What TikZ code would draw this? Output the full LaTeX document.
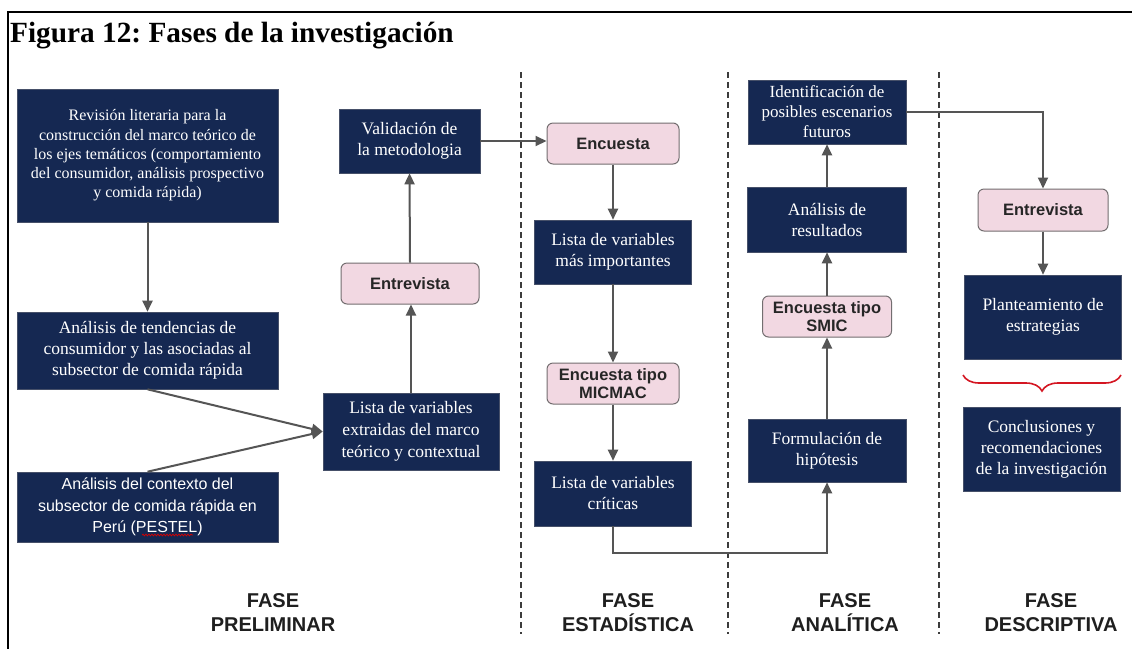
\documentclass[tikz,border=0pt]{standalone}
\usepackage{fontspec}
\setmainfont{Liberation Serif}
\setsansfont{Liberation Sans}
\usetikzlibrary{arrows.meta,decorations.pathreplacing,decorations.pathmorphing}
\frenchspacing

\definecolor{navy}{RGB}{21,40,82}
\definecolor{navyedge}{RGB}{70,80,105}
\definecolor{pinkfill}{RGB}{242,216,226}
\definecolor{pinkedge}{RGB}{115,110,112}
\definecolor{arrowgray}{RGB}{85,85,85}
\definecolor{bracered}{RGB}{212,22,34}
\definecolor{dashgray}{RGB}{60,60,60}

\begin{document}
\begin{tikzpicture}[x=1pt,y=-1pt,
  navybox/.style={fill=navy, draw=navyedge, line width=0.6pt, text=white,
    align=center, inner sep=0pt,
    font=\fontsize{17.5}{21}\selectfont},
  pinkbox/.style={fill=pinkfill, draw=pinkedge, line width=1pt,
    rounded corners=6pt, align=center, inner sep=0pt, text=black!85,
    font=\sffamily\bfseries\fontsize{16.5}{17.5}\selectfont},
  flow/.style={draw=arrowgray, line width=2pt,
    -{Triangle[length=11pt,width=10pt]}},
  divider/.style={draw=dashgray, line width=1.4pt, dash pattern=on 6pt off 4pt},
  phaselabel/.style={align=center, inner sep=0pt, text=black!88,
    font=\sffamily\bfseries\fontsize{20}{24}\selectfont},
]
\useasboundingbox (0,0) rectangle (1132,649);
\fill[white] (0,0) rectangle (1132,649);

% frame and title
\draw[black, line width=2pt] (1132,12) -- (8,12) -- (8,649);
\node[anchor=base west, inner sep=0pt,
  font=\bfseries\fontsize{29.3}{32}\selectfont] (title) at (10,42)
  {Figura 12: Fases de la investigación};

% phase dividers
\draw[divider] (521,72) -- (521,634);
\draw[divider] (728,72) -- (728,634);
\draw[divider] (939,72) -- (939,634);

% fase preliminar
\node[navybox, minimum width=261pt, minimum height=133pt,
  font=\fontsize{16}{19.2}\selectfont] (rev) at (147.5,155.5)
  {Revisión literaria para la\\construcción del marco teórico de\\los ejes temáticos (comportamiento\\del consumidor, análisis prospectivo\\y comida rápida)};
\node[navybox, minimum width=261pt, minimum height=77pt] (tend) at (147.5,350.5)
  {Análisis de tendencias de\\consumidor y las asociadas al\\subsector de comida rápida};
\node[navybox, minimum width=261pt, minimum height=70pt,
  font=\sffamily\fontsize{16}{21.5}\selectfont] (ctx) at (147.5,507)
  {Análisis del contexto del\\subsector de comida rápida en\\Perú (PESTEL)};
\node[navybox, minimum width=176pt, minimum height=77pt,
  font=\fontsize{17.5}{22}\selectfont] (lext) at (411,431.5)
  {Lista de variables\\extraidas del marco\\teórico y contextual};
\node[pinkbox, minimum width=138pt, minimum height=41pt] (ent1) at (410,283.5) {Entrevista};
\node[navybox, minimum width=141pt, minimum height=64pt] (val) at (409.5,141)
  {Validación de\\la metodologia};

% fase estadistica
\node[pinkbox, minimum width=132pt, minimum height=41pt] (enc) at (613,143.5) {Encuesta};
\node[navybox, minimum width=157pt, minimum height=64pt] (limp) at (613,252)
  {Lista de variables\\más importantes};
\node[pinkbox, minimum width=132pt, minimum height=41pt] (mic) at (613,383.5)
  {Encuesta tipo\\MICMAC};
\node[navybox, minimum width=157pt, minimum height=65pt] (lcrit) at (613,493.5)
  {Lista de variables\\críticas};

% fase analitica
\node[navybox, minimum width=158pt, minimum height=64pt,
  font=\fontsize{17}{20}\selectfont] (iden) at (827,112)
  {Identificación de\\posibles escenarios\\futuros};
\node[navybox, minimum width=159pt, minimum height=65pt] (ares) at (827,219.5)
  {Análisis de\\resultados};
\node[pinkbox, minimum width=129pt, minimum height=41pt] (smic) at (827,316.5)
  {Encuesta tipo\\SMIC};
\node[navybox, minimum width=158pt, minimum height=63pt] (form) at (827,450.5)
  {Formulación de\\hipótesis};

% fase descriptiva
\node[pinkbox, minimum width=130pt, minimum height=42pt] (ent3) at (1043,210) {Entrevista};
\node[navybox, minimum width=157pt, minimum height=84pt] (plan) at (1043,317)
  {Planteamiento de\\estrategias};
\node[navybox, minimum width=157pt, minimum height=84pt] (concl) at (1041.5,449)
  {Conclusiones y\\recomendaciones\\de la investigación};

% spell-check mark under PESTEL
\draw[red!85!black, line width=0.7pt, decorate,
  decoration={snake, amplitude=0.9pt, segment length=3pt}] (142,535) -- (193,535);

% brace grouping the last two boxes
\draw[bracered, line width=1.6pt, decorate,
  decoration={brace, mirror, amplitude=16pt}] (963,375) -- (1121,375);

% connectors
\draw[flow] (rev.south) -- (tend.north);
\draw[flow] (tend.south) -- (lext.west);
\draw[flow] (ctx.north) -- (lext.west);
\draw[flow] (lext.north) -- (lext.north |- ent1.south);
\draw[flow] (ent1.north) -- (val.south);
\draw[flow] (val.east) -- (val.east -| enc.west);
\draw[flow] (enc.south) -- (limp.north);
\draw[flow] (limp.south) -- (mic.north);
\draw[flow] (mic.south) -- (lcrit.north);
\draw[flow] (lcrit.south) -- ++(0,27) -| (form.south);
\draw[flow] (form.north) -- (smic.south);
\draw[flow] (smic.north) -- (ares.south);
\draw[flow] (ares.north) -- (iden.south);
\draw[flow] (iden.east) -| (ent3.north);
\draw[flow] (ent3.south) -- (plan.north);

% phase labels
\node[phaselabel] (fpre) at (273,613) {FASE\\PRELIMINAR};
\node[phaselabel] (fest) at (628,613) {FASE\\ESTADÍSTICA};
\node[phaselabel] (fana) at (845,613) {FASE\\ANALÍTICA};
\node[phaselabel] (fdes) at (1051,613) {FASE\\DESCRIPTIVA};
\end{tikzpicture}
\end{document}
